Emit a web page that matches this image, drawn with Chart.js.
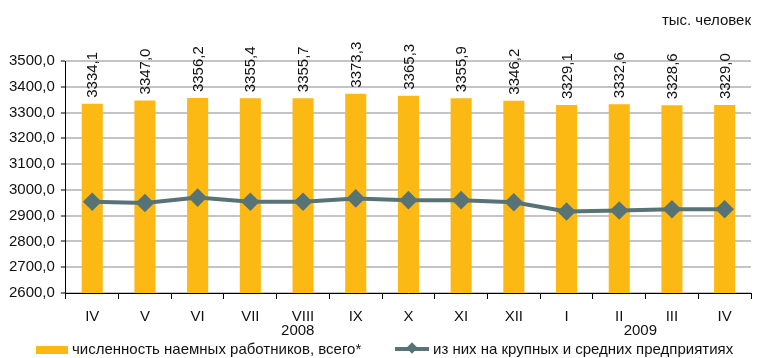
<!DOCTYPE html>
<html>
<head>
<meta charset="utf-8">
<script src="https://cdn.jsdelivr.net/npm/chart.js@4.4.0/dist/chart.umd.min.js"></script>
<style>
    body { margin: 0; background: #fff; }
    #wrap { position: relative; width: 763px; height: 358px; font-family: "Liberation Sans", Arial, sans-serif; }
    #chart { position: absolute; left: 0; top: 0; }
    .leg { position: absolute; top: 340px; font-size: 15px; color: #111; white-space: nowrap; line-height: 18px; }
    .box { position: absolute; left: 36px; top: 346px; width: 32px; height: 8px; background: #FDB913; }
    .lineSym { position: absolute; left: 395px; top: 347px; width: 34px; height: 4px; background: #587376; }
    .lineSym i { position: absolute; left: 13px; top: -3px; width: 8px; height: 8px; background: #587376; transform: rotate(45deg); }
</style>
</head>
<body>
<div id="wrap">
    <canvas id="chart" width="763" height="358"></canvas>
    <div class="box"></div>
    <div class="leg" style="left:72px;">численность наемных работников, всего*</div>
    <div class="lineSym"><i></i></div>
    <div class="leg" style="left:433px;">из них на крупных и средних предприятиях</div>
</div>
<script>
const months = ['IV', 'V', 'VI', 'VII', 'VIII', 'IX', 'X', 'XI', 'XII', 'I', 'II', 'III', 'IV'];
const years = ['2008', '2009'];
const totalWorkers = [3334.1, 3347.0, 3356.2, 3355.4, 3355.7, 3373.3, 3365.3, 3355.9, 3346.2, 3329.1, 3332.6, 3328.6, 3329.0];
const largeMedium = [2954, 2949, 2970, 2954, 2954, 2967, 2960, 2960, 2952, 2916, 2920, 2925, 2925];

const fmt = v => v.toFixed(1).replace('.', ',');
const font = { family: '"Liberation Sans", Arial, sans-serif', size: 15 };
const fontStr = '15px "Liberation Sans", Arial, sans-serif';

// vertical value labels above the bars
const barLabels = {
    id: 'barLabels',
    afterDatasetsDraw(chart) {
        const meta = chart.getDatasetMeta(1);
        const ctx = chart.ctx;
        ctx.save();
        ctx.font = fontStr;
        ctx.fillStyle = '#111';
        ctx.textAlign = 'left';
        ctx.textBaseline = 'middle';
        meta.data.forEach((bar, i) => {
            ctx.save();
            ctx.translate(bar.x + 1, bar.y - 6);
            ctx.rotate(-Math.PI / 2);
            ctx.fillText(fmt(totalWorkers[i]), 0, 0);
            ctx.restore();
        });
        ctx.restore();
    }
};

// year captions under the month axis (in category units)
const yearAt = [3.9, 10.4];
const yearLabels = {
    id: 'yearLabels',
    afterDraw(chart) {
        const x = chart.scales.x;
        const ctx = chart.ctx;
        ctx.save();
        ctx.font = fontStr;
        ctx.fillStyle = '#111';
        ctx.textAlign = 'center';
        ctx.textBaseline = 'middle';
        years.forEach((y, i) => {
            ctx.fillText(y, x.getPixelForValue(yearAt[i]), chart.chartArea.bottom + 38);
        });
        ctx.restore();
    }
};

new Chart(document.getElementById('chart'), {
    type: 'bar',
    data: {
        labels: months,
        datasets: [{
            type: 'line',
            label: 'из них на крупных и средних предприятиях',
            data: largeMedium,
            borderColor: '#587376',
            backgroundColor: '#587376',
            borderWidth: 4,
            pointStyle: 'rectRot',
            pointRadius: 6.5,
            pointHoverRadius: 6.5,
            tension: 0,
            order: 0
        }, {
            label: 'численность наемных работников, всего*',
            data: totalWorkers,
            backgroundColor: '#FDB913',
            categoryPercentage: 1,
            barPercentage: 0.4,
            order: 1
        }]
    },
    options: {
        responsive: false,
        animation: false,
        layout: { padding: { left: 3, right: 12, top: 0, bottom: 23 } },
        plugins: {
            legend: { display: false },
            tooltip: { enabled: false },
            title: {
                display: true,
                text: 'тыс. человек',
                align: 'end',
                color: '#111',
                font: { ...font, weight: 'normal' },
                padding: { top: 12, bottom: 31 }
            }
        },
        scales: {
            x: {
                offset: true,
                grid: { offset: true, drawOnChartArea: false, color: '#000', tickLength: 6 },
                border: { color: '#000', width: 1 },
                ticks: { color: '#111', font: font, padding: 9, maxRotation: 0, autoSkip: false }
            },
            y: {
                min: 2600,
                max: 3500,
                grid: { color: '#C4C4C8', lineWidth: 2, tickColor: '#000', tickLength: 5, tickWidth: 1 },
                border: { color: '#000', width: 1 },
                ticks: { stepSize: 100, color: '#111', font: font, padding: 6, callback: v => fmt(v) }
            }
        }
    },
    plugins: [barLabels, yearLabels]
});
</script>
</body>
</html>
